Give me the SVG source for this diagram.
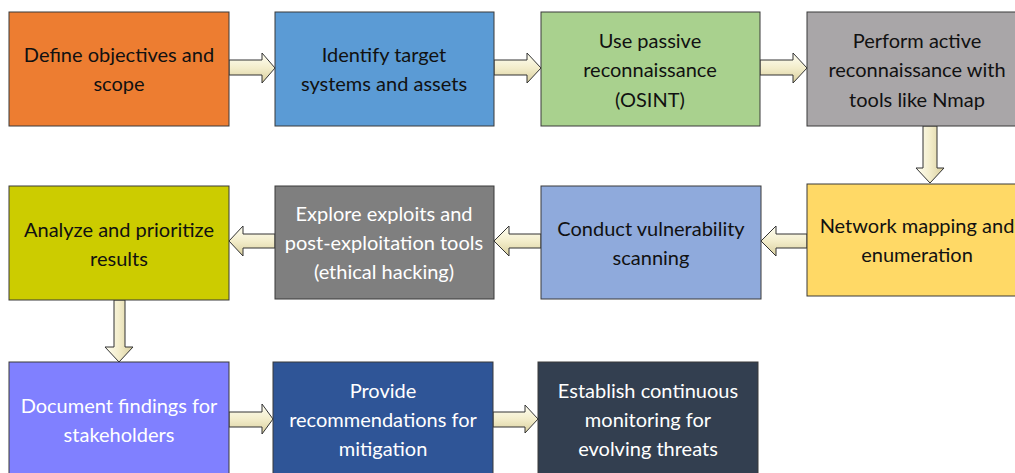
<svg xmlns="http://www.w3.org/2000/svg" width="1015" height="473" viewBox="0 0 1015 473">
<defs>
<linearGradient id="gh" x1="0" y1="0" x2="0" y2="1">
<stop offset="0" stop-color="#FFFFF4"/><stop offset="0.5" stop-color="#F3EDCB"/><stop offset="1" stop-color="#D9CF9E"/>
</linearGradient>
<linearGradient id="gv" x1="0" y1="0" x2="1" y2="0">
<stop offset="0" stop-color="#FFFFF4"/><stop offset="0.5" stop-color="#F3EDCB"/><stop offset="1" stop-color="#D9CF9E"/>
</linearGradient>
<style>
.box{stroke:#3a3a3a;stroke-width:1}
.t{font-family:Lato,"Liberation Sans",sans-serif;font-size:20px;text-anchor:middle}
.d{fill:#111}
.w{fill:#fff}
.ah{fill:url(#gh);stroke:#333;stroke-width:1}
.av{fill:url(#gv);stroke:#333;stroke-width:1}
</style>
</defs>
<rect width="1015" height="473" fill="#fff"/>
<g id="connectors">
<path class="ah" d="M229,60 H262 V53 L275,68 L262,83 V75 H229 Z"/>
<path class="ah" d="M494,60 H527 V53 L541,68 L527,83 V75 H494 Z"/>
<path class="ah" d="M760,60 H793 V53 L807,68 L793,83 V75 H760 Z"/>
<path class="av" d="M923,126 V168 H916 L930,183 L944,168 H937 V126 Z"/>
<path class="ah" d="M807,234 H776 V226 L761,241 L776,256 V248 H807 Z"/>
<path class="ah" d="M541,234 H509 V226 L494,241 L509,256 V248 H541 Z"/>
<path class="ah" d="M275,234 H243 V226 L229,241 L243,256 V248 H275 Z"/>
<path class="av" d="M114,300 V347 H105 L119,362 L133,347 H125 V300 Z"/>
<path class="ah" d="M229,412 H262 V404 L273,419 L262,434 V427 H229 Z"/>
<path class="ah" d="M493,412 H525 V405 L538,419 L525,433 V427 H493 Z"/>
</g>
<g id="n1"><rect class="box" x="9" y="12" width="220" height="114" fill="#ED7D31"/>
<text class="t d" x="119" y="62">Define objectives and</text><text class="t d" x="119" y="91">scope</text></g>
<g id="n2"><rect class="box" x="275" y="12" width="219" height="114" fill="#5B9BD5"/>
<text class="t d" x="384" y="62">Identify target</text><text class="t d" x="384" y="91">systems and assets</text></g>
<g id="n3"><rect class="box" x="541" y="12" width="219" height="114" fill="#A9D18E"/>
<text class="t d" x="650" y="48">Use passive</text><text class="t d" x="650" y="77">reconnaissance</text><text class="t d" x="650" y="107">(OSINT)</text></g>
<g id="n4"><rect class="box" x="807" y="12" width="220" height="114" fill="#A9A6A8"/>
<text class="t d" x="917" y="48">Perform active</text><text class="t d" x="917" y="77">reconnaissance with</text><text class="t d" x="917" y="107">tools like Nmap</text></g>
<g id="n5"><rect class="box" x="807" y="184" width="220" height="112" fill="#FFD966"/>
<text class="t d" x="917" y="233">Network mapping and</text><text class="t d" x="917" y="262">enumeration</text></g>
<g id="n6"><rect class="box" x="541" y="186" width="220" height="113" fill="#8FAADC"/>
<text class="t d" x="651" y="236">Conduct vulnerability</text><text class="t d" x="651" y="265">scanning</text></g>
<g id="n7"><rect class="box" x="275" y="186" width="219" height="113" fill="#7F7F7F"/>
<text class="t w" x="384" y="221">Explore exploits and</text><text class="t w" x="384" y="250">post-exploitation tools</text><text class="t w" x="384" y="279">(ethical hacking)</text></g>
<g id="n8"><rect class="box" x="9" y="186" width="220" height="114" fill="#CCCC00"/>
<text class="t d" x="119" y="237">Analyze and prioritize</text><text class="t d" x="119" y="266">results</text></g>
<g id="n9"><rect class="box" x="9" y="362" width="220" height="120" fill="#8080FF"/>
<text class="t w" x="119" y="413">Document findings for</text><text class="t w" x="119" y="442">stakeholders</text></g>
<g id="n10"><rect class="box" x="273" y="362" width="220" height="120" fill="#2F5597"/>
<text class="t w" x="383" y="398">Provide</text><text class="t w" x="383" y="427">recommendations for</text><text class="t w" x="383" y="456">mitigation</text></g>
<g id="n11"><rect class="box" x="538" y="362" width="220" height="120" fill="#333F50"/>
<text class="t w" x="648" y="398">Establish continuous</text><text class="t w" x="648" y="427">monitoring for</text><text class="t w" x="648" y="456">evolving threats</text></g>
</svg>
